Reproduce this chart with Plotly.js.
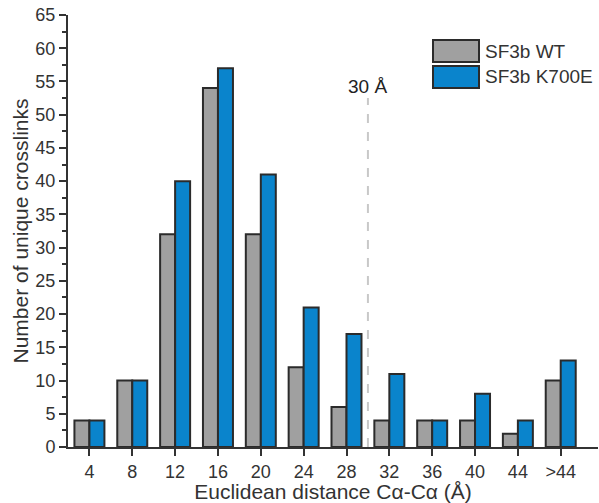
<!DOCTYPE html>
<html>
<head>
<meta charset="utf-8">
<script src="https://cdn.plot.ly/plotly-3.0.1.min.js"></script>
<style>html,body{margin:0;padding:0;background:#fff;}#chart{width:599px;height:503px;}</style>
</head>
<body>
<div id="chart"></div>
<script>
const categories = ["4","8","12","16","20","24","28","32","36","40","44",">44"];
const wtValues = [4,10,32,54,32,12,6,4,4,4,2,10];
const k700eValues = [4,10,40,57,41,21,17,11,4,8,4,13];
const seriesNames = ["SF3b WT","SF3b K700E"];
const cutoffLabel = "30 Å";

const font = "Liberation Sans, Arial, sans-serif";
const txt = "#333333";
const colors = ["#a0a0a0","#0a84cc"];

const traces = [
  {type:"bar", x:categories, y:wtValues, name:seriesNames[0],
   marker:{color:colors[0], line:{color:"#2b2b2b", width:2}}},
  {type:"bar", x:categories, y:k700eValues, name:seriesNames[1],
   marker:{color:colors[1], line:{color:"#2b2b2b", width:2}}}
];

const L=68, R=1, T=15, B=56, W=599, H=503;
const pw=W-L-R, ph=H-T-B;
function px(x){return (x-L)/pw;}
function py(y){return (H-B-y)/ph;}

const layout = {
  width:W, height:H,
  margin:{l:L, r:R, t:T, b:B},
  paper_bgcolor:"#fff", plot_bgcolor:"#fff",
  showlegend:false,
  barmode:"group", bargap:0.3, bargroupgap:0,
  font:{family:font, color:txt, size:18},
  xaxis:{type:"category", range:[-0.5, 11.87], showgrid:false, zeroline:false,
    showline:true, linecolor:"#333", linewidth:2,
    ticks:"outside", ticklen:7, tickwidth:2, tickcolor:"#333",
    tickfont:{size:18, color:txt},
    title:{text:"Euclidean distance Cα-Cα (Å)", font:{size:21, color:txt}, standoff:0}},
  yaxis:{range:[0,65], dtick:5, tick0:0, showgrid:false, zeroline:false,
    showline:true, linecolor:"#333", linewidth:2,
    ticks:"outside", ticklen:7, tickwidth:2, tickcolor:"#333",
    tickfont:{size:18, color:txt},
    minor:{dtick:2.5, ticks:"outside", ticklen:4, tickwidth:2, tickcolor:"#333", showgrid:false},
    title:{text:"Number of unique crosslinks", font:{size:21, color:txt}, standoff:1}},
  shapes:[
    {type:"line", xref:"x", yref:"y", x0:6.5, x1:6.5, y0:0, y1:52.5,
     line:{color:"#c8c8c8", width:2, dash:"dash"}},
    {type:"rect", xref:"paper", yref:"paper", x0:px(433), x1:px(479), y0:py(62), y1:py(40),
     fillcolor:colors[0], line:{color:"#2b2b2b", width:2}},
    {type:"rect", xref:"paper", yref:"paper", x0:px(433), x1:px(479), y0:py(88), y1:py(66),
     fillcolor:colors[1], line:{color:"#2b2b2b", width:2}}
  ],
  annotations:[
    {xref:"x", yref:"y", x:6.5, y:54.2, text:cutoffLabel, showarrow:false,
     xanchor:"center", yanchor:"middle", font:{size:19, color:"#222"}},
    {xref:"paper", yref:"paper", x:px(483), y:py(51), text:seriesNames[0], showarrow:false,
     xanchor:"left", yanchor:"middle", font:{size:19, color:txt}},
    {xref:"paper", yref:"paper", x:px(483), y:py(77), text:seriesNames[1], showarrow:false,
     xanchor:"left", yanchor:"middle", font:{size:19, color:txt}}
  ]
};

Plotly.newPlot("chart", traces, layout, {displayModeBar:false, staticPlot:true});
</script>
</body>
</html>
